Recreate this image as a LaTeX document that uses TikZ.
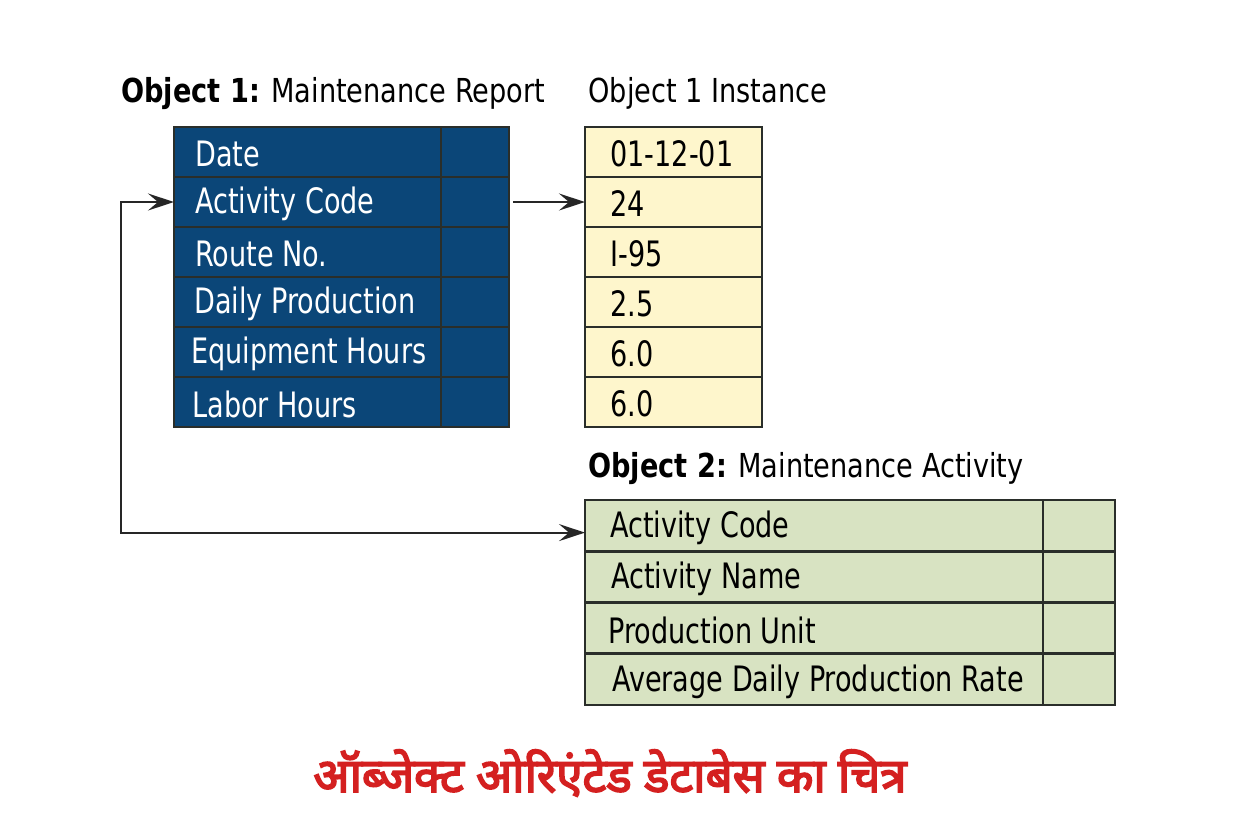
\documentclass[tikz,border=0pt]{standalone}
\usepackage{fontspec}
\setmainfont{DejaVu Sans Condensed}[FakeStretch=0.86]
\newfontfamily\titlefont{DejaVu Sans Condensed}[FakeStretch=0.915]
\newfontfamily\hindi[Script=Devanagari, FakeBold=3.5]{Noto Sans}
\usetikzlibrary{arrows.meta}
\definecolor{dbblue}{HTML}{0B4678}
\definecolor{instyellow}{HTML}{FEF6CC}
\definecolor{actgreen}{HTML}{D8E3C2}
\definecolor{titlered}{HTML}{D42020}
\definecolor{gridline}{HTML}{2A2E2A}
\tikzset{
  cell/.style={draw=gridline, line width=1.4pt, anchor=north west, inner sep=0pt, outer sep=0pt,
    minimum height=25pt},
  celltext/.style={anchor=west, inner sep=0pt, font=\fontsize{17.5}{20}\selectfont},
  bcell/.style={cell, fill=dbblue},
  ycell/.style={cell, fill=instyellow},
  gcell/.style={cell, fill=actgreen, minimum height=25.6pt},
  ttl/.style={anchor=base west, inner sep=0pt, font=\titlefont\fontsize{16.5}{20}\selectfont},
  arr/.style={line width=1pt, draw=black!85, >={Stealth[length=13pt,width=8.5pt,inset=5pt]}, <->},
  arrone/.style={line width=1pt, draw=black!85, >={Stealth[length=13pt,width=8.5pt,inset=5pt]}, ->}
}
\begin{document}
\begin{tikzpicture}[x=0.5pt,y=-0.5pt]
\fill[white] (0,0) rectangle (1248,832);
\useasboundingbox (0,0) rectangle (1248,832);
% titles
\node[ttl] (t1) at (121,102) {\textbf{Object 1:} Maintenance Report};
\node[ttl] (t2) at (588,102) {Object 1 Instance};
\node[ttl] (t3) at (588,477) {\textbf{Object 2:} Maintenance Activity};
% object 1
\foreach \t/\o [count=\i] in {Date/10.5, Activity Code/10.5, Route No./10.5, Daily Production/10, Equipment Hours/8.5, Labor Hours/9} {
  \node[bcell, minimum width=133.5pt,
    label={[celltext, text=white, xshift=\o pt, yshift=-1pt]west:\t}] (b\i) at (174,{127+50*(\i-1)}) {};
  \node[bcell, minimum width=34pt] (bv\i) at (441,{127+50*(\i-1)}) {};
}
% instance
\foreach \t [count=\i] in {01-12-01, 24, I-95, 2.5, 6.0, 6.0} {
  \node[ycell, minimum width=88.5pt,
    label={[celltext, text=black, xshift=12.5pt, yshift=-1pt]west:\t}] (y\i) at (585,{127+50*(\i-1)}) {};
}
% object 2
\foreach \t/\o [count=\i] in {Activity Code/12.5, Activity Name/13, Production Unit/11.5, Average Daily Production Rate/13.5} {
  \node[gcell, minimum width=229pt,
    label={[celltext, text=black, xshift=\o pt, yshift=-1pt]west:\t}] (g\i) at (585,{500+51.25*(\i-1)}) {};
  \node[gcell, minimum width=36pt] (gv\i) at (1043,{500+51.25*(\i-1)}) {};
}
% connectors
\coordinate (lp) at (121,0);
\coordinate (ga) at ([yshift=-3.5pt]g1.west);
\draw[arrone] ([xshift=2pt]bv2.east) -- (y2.west);
\draw[arr] (b2.west) -| (lp |- ga) -- (ga);
% caption
\node[text=titlered, font=\hindi\fontsize{23.7}{28}\selectfont] (cap) at (610,773) {ऑब्जेक्ट ओरिएंटेड डेटाबेस का चित्र};
\end{tikzpicture}
\end{document}
